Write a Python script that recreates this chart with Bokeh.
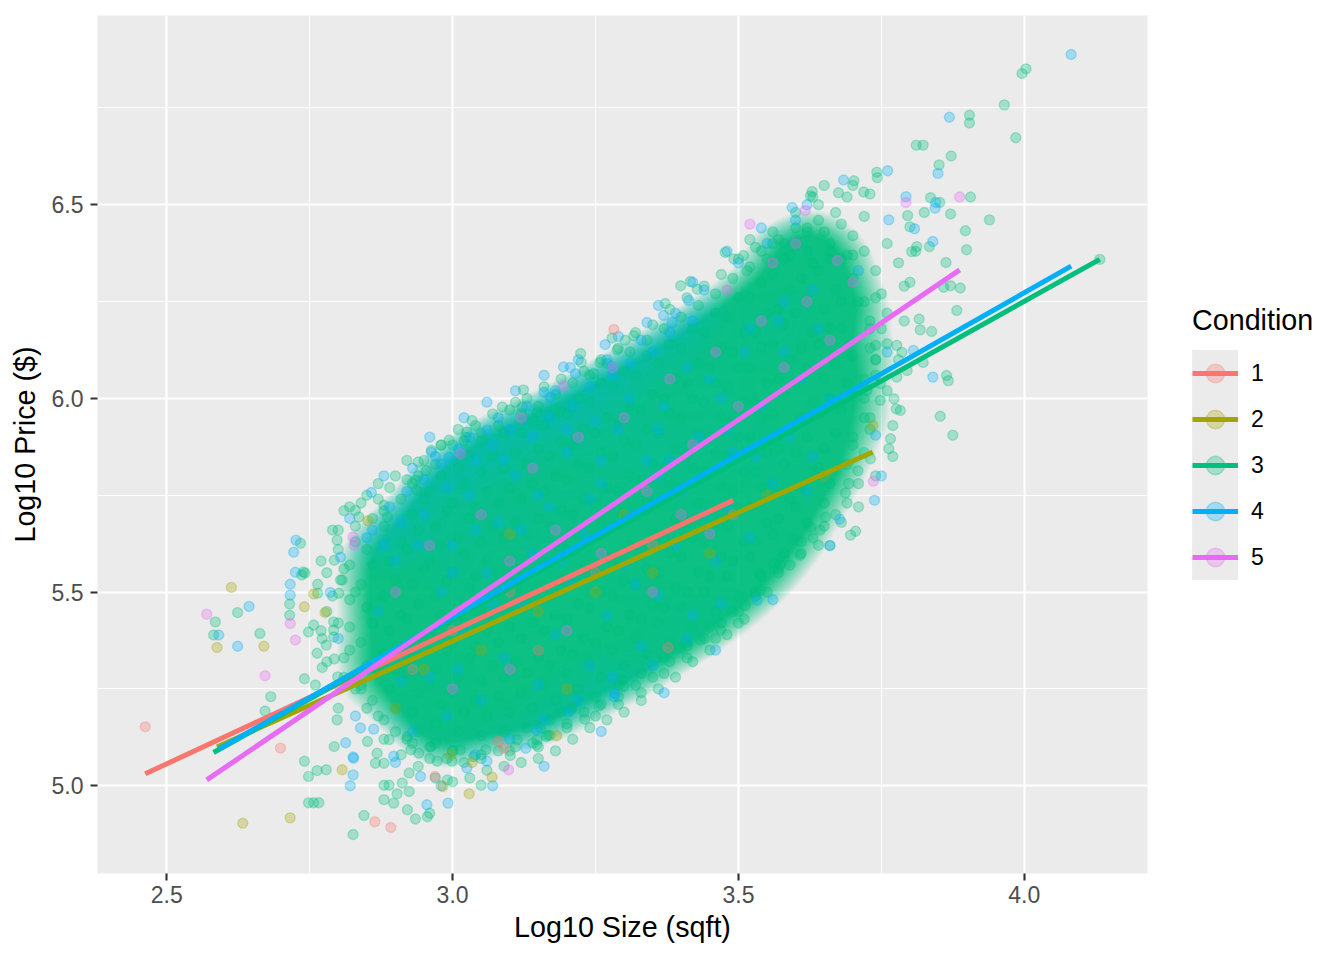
import numpy as np
from bokeh.plotting import figure
from bokeh.layouts import row
from bokeh.models import (ColumnDataSource, Range1d, FixedTicker, NumeralTickFormatter,
                          Legend, LegendItem)
from bokeh.embed import file_html
from bokeh.resources import INLINE

# ---------------- data (a hand-read sample of the cloud) ----------------
conditions = ["1", "2", "3", "4", "5"]
colors = ["#F8766D", "#A3A500", "#00BF7D", "#00B0F6", "#E76BF3"]

x_ticks = [2.5, 3.0, 3.5, 4.0]
x_minor = [2.25, 2.75, 3.25, 3.75, 4.25]
y_ticks = [5.0, 5.5, 6.0, 6.5]
y_minor = [4.75, 5.25, 5.75, 6.25, 6.75]

# fitted (lm) lines per condition
fit_slope = [0.6866, 0.664, 0.8215, 0.8363, 1.0]
fit_intercept = [3.3399, 3.3817, 2.9647, 2.9278, 2.445]

red_pts = [(2.4624, 5.152), (2.699, 5.097), (2.864, 4.907), (2.892, 4.892), (2.969, 5.024),
           (3.090, 5.097), (3.080, 5.114), (3.377, 5.357), (3.282, 6.178), (3.491, 5.70),
           (3.00, 5.40), (3.15, 5.35), (3.25, 5.55), (2.93, 5.30), (3.35, 5.62), (3.10, 5.50)]

olive_pts = [(2.613, 5.512), (2.588, 5.357), (2.633, 4.903), (2.716, 4.917), (2.741, 5.462),
             (2.757, 5.495), (2.777, 5.447), (2.807, 5.041), (2.983, 4.998), (2.997, 5.080),
             (3.029, 4.979), (3.034, 5.060), (3.069, 5.022), (3.182, 5.129), (3.735, 5.930),
             (2.852, 5.684), (2.95, 5.30), (3.05, 5.35), (3.15, 5.45), (3.25, 5.50), (3.35, 5.55),
             (3.45, 5.60), (3.10, 5.65), (3.30, 5.70), (3.55, 5.75), (3.65, 5.80), (2.90, 5.20),
             (3.20, 5.25), (2.67, 5.36)]

# condition 3, points around the dense core
green_pts = [
    (2.582, 5.389), (2.624, 5.447), (2.585, 5.423), (2.663, 5.393), (2.682, 5.230), (2.672, 5.193),
    (2.741, 5.063), (2.748, 5.024), (2.763, 5.039), (2.779, 5.041), (2.748, 4.956), (2.757, 4.956),
    (2.766, 4.956), (2.826, 4.874), (2.845, 4.923), (2.741, 5.276), (2.715, 5.469), (2.715, 5.440),
    (2.736, 5.544), (2.742, 5.549), (2.764, 5.520), (2.764, 5.497), (2.748, 5.397), (2.757, 5.415),
    (2.763, 5.342), (2.772, 5.380), (2.779, 5.363), (2.772, 5.305), (2.793, 5.327), (2.799, 5.281),
    (2.792, 5.423), (2.792, 5.402), (2.792, 5.384), (2.801, 5.497), (2.807, 5.531), (2.734, 5.626),
    (2.739, 5.552), (2.798, 5.634), (2.793, 5.582), (2.804, 5.531),
    (2.880, 5.001), (2.889, 5.001), (2.880, 4.964), (2.897, 4.955), (2.903, 4.979), (2.924, 4.985),
    (2.921, 4.938), (2.935, 4.914), (2.956, 4.920), (2.960, 4.929), (3.050, 5.001), (3.101, 5.078),
    (3.147, 5.105), (3.164, 5.127), (3.231, 5.172), (3.256, 5.206), (3.299, 5.256), (3.297, 5.273),
    (3.399, 5.355), (2.798, 5.170), (2.793, 5.101), (2.851, 5.114), (2.868, 5.084), (2.880, 5.058),
    (2.865, 5.058), (2.889, 5.119), (2.921, 5.127), (2.927, 5.093), (2.941, 5.084), (2.962, 5.101),
    (2.973, 5.063), (2.924, 5.033), (2.912, 5.007), (2.991, 5.015), (2.999, 5.063), (3.014, 5.093),
    (3.037, 5.075), (3.058, 5.093), (3.113, 5.119), (3.148, 5.119), (3.166, 5.131), (3.154, 5.149),
    (3.206, 5.196), (3.189, 5.191),
    (3.434, 5.376), (3.469, 5.402), (3.512, 5.466), (3.538, 5.505), (3.573, 5.570), (3.608, 5.595),
    (3.643, 5.660), (3.696, 5.647), (3.579, 5.591), (3.640, 5.621), (3.652, 5.693), (3.626, 5.668),
    (3.597, 5.638), (3.562, 5.574), (3.538, 5.548), (3.50, 5.42), (3.46, 5.38), (3.41, 5.33),
    (3.37, 5.29), (3.33, 5.24), (3.29, 5.21), (3.25, 5.18), (3.20, 5.15), (3.15, 5.10), (3.10, 5.09),
    (3.05, 5.07), (3.00, 5.09), (2.96, 5.10), (2.92, 5.12), (2.88, 5.17), (2.86, 5.22),
    (3.034, 5.943), (3.025, 5.913), (3.023, 5.900), (3.087, 5.978), (3.110, 5.990), (3.122, 5.978),
    (3.148, 5.964), (3.168, 5.956), (3.189, 5.967), (3.206, 5.978), (2.994, 5.892), (2.980, 5.879),
    (2.963, 5.866), (2.940, 5.836), (2.954, 5.814), (2.935, 5.789), (2.930, 5.780), (2.938, 5.763),
    (2.880, 5.724), (2.886, 5.694), (2.830, 5.711), (2.836, 5.694),
    (2.81, 5.28), (2.82, 5.35), (2.80, 5.42), (2.82, 5.48), (2.81, 5.56), (2.83, 5.63), (2.83, 5.25),
    (2.80, 5.20), (2.78, 5.45), (2.77, 5.58), (2.79, 5.66), (2.82, 5.72), (2.85, 5.75), (2.87, 5.78),
    (2.90, 5.80), (2.92, 5.84),
    (3.124, 6.022), (3.224, 6.116), (3.225, 6.093), (3.247, 6.064), (3.279, 6.156), (3.288, 6.126),
    (3.302, 6.150), (3.317, 6.162), (3.258, 6.093), (3.372, 6.245), (3.399, 6.291), (3.416, 6.302),
    (3.428, 6.282), (3.477, 6.377), (3.492, 6.360), (3.509, 6.369), (3.515, 6.330),
    (3.58, 6.40), (3.60, 6.44), (3.62, 6.38), (3.64, 6.46), (3.66, 6.40), (3.68, 6.36), (3.70, 6.42),
    (3.72, 6.38), (3.74, 6.33), (3.71, 6.25), (3.73, 6.20), (3.75, 6.27), (3.54, 6.38), (3.56, 6.43),
    (3.52, 6.41), (3.63, 6.52), (3.67, 6.48), (3.69, 6.52), (3.76, 6.40), (3.78, 6.35), (3.74, 6.10),
    (3.72, 6.05), (3.76, 6.22), (3.79, 6.29), (3.72, 5.95), (3.70, 5.88), (3.74, 5.80), (3.71, 5.72),
    (3.68, 5.68), (3.66, 5.62),
    (4.003, 6.851), (3.996, 6.839), (3.965, 6.758), (3.985, 6.673), (3.904, 6.731), (3.904, 6.711),
    (3.811, 6.654), (3.823, 6.654), (3.872, 6.626), (3.851, 6.603), (3.906, 6.520), (3.836, 6.518),
    (3.852, 6.506), (3.825, 6.480), (3.871, 6.476), (3.939, 6.461), (3.796, 6.472), (3.897, 6.433),
    (3.899, 6.384), (3.800, 6.443), (3.812, 6.392), (3.803, 6.379), (3.834, 6.392), (3.863, 6.351),
    (4.132, 6.359), (3.742, 6.584), (3.743, 6.570), (3.702, 6.562), (3.730, 6.528), (3.719, 6.533),
    (3.675, 6.531), (3.629, 6.534), (3.626, 6.523), (3.859, 6.287), (3.882, 6.227), (3.816, 6.205),
    (3.818, 6.177), (3.838, 6.173), (3.888, 6.285), (3.871, 6.291),
    (3.864, 6.059), (3.867, 6.046), (3.853, 5.954), (3.875, 5.905), (3.783, 5.969), (3.766, 5.896),
    (3.763, 5.870), (3.731, 5.844), (3.709, 5.813), (3.693, 5.780), (3.687, 5.756), (3.690, 5.730),
    (3.705, 5.657), (3.776, 5.973), (3.772, 5.999), (3.823, 6.093), (3.786, 6.119), (3.777, 6.137),
    (3.760, 6.141), (3.740, 6.137), (3.795, 6.072), (3.777, 6.055), (3.748, 6.038), (3.725, 6.021),
    (3.748, 5.995),
    # band just outside the saturated core
    (2.80, 5.66), (2.81, 5.71), (2.83, 5.67), (2.84, 5.73), (2.86, 5.69), (2.87, 5.74), (2.88, 5.71),
    (2.89, 5.77), (2.91, 5.74), (2.92, 5.79), (2.94, 5.80), (2.95, 5.84), (2.97, 5.83), (2.98, 5.88),
    (3.00, 5.88), (3.01, 5.92), (3.02, 5.89), (3.04, 5.93), (3.05, 5.91), (3.07, 5.96), (3.08, 5.93),
    (3.10, 5.97), (3.12, 5.96), (3.13, 6.00), (3.15, 5.98), (3.16, 6.03), (3.18, 6.01), (3.19, 6.05),
    (3.21, 6.04), (3.23, 6.07), (3.24, 6.06), (3.26, 6.10), (3.27, 6.09), (3.29, 6.13), (3.31, 6.12),
    (3.32, 6.17), (3.34, 6.15), (3.35, 6.19), (3.37, 6.18), (3.38, 6.23), (3.40, 6.21), (3.41, 6.26),
    (3.43, 6.24), (3.44, 6.29), (3.46, 6.27), (3.47, 6.32), (3.49, 6.31), (3.50, 6.36), (3.52, 6.34),
    (3.53, 6.39), (3.55, 6.36), (3.57, 6.41), (3.59, 6.37), (3.60, 6.48), (3.62, 6.43), (3.64, 6.50),
    (3.66, 6.36), (3.68, 6.45), (3.70, 6.37), (3.72, 6.47), (3.65, 6.55), (3.70, 6.55),
    (2.84, 5.26), (2.85, 5.20), (2.87, 5.18), (2.88, 5.12), (2.90, 5.14), (2.91, 5.08), (2.93, 5.11),
    (2.94, 5.05), (2.96, 5.07), (2.97, 5.02), (2.99, 5.07), (3.00, 5.01), (3.02, 5.06), (3.03, 5.02),
    (3.05, 5.08), (3.06, 5.04), (3.08, 5.09), (3.09, 5.05), (3.11, 5.10), (3.12, 5.06), (3.14, 5.11),
    (3.15, 5.07), (3.17, 5.13), (3.18, 5.09), (3.20, 5.16), (3.21, 5.12), (3.23, 5.19), (3.24, 5.15),
    (3.26, 5.21), (3.27, 5.17), (3.29, 5.23), (3.30, 5.19), (3.32, 5.26), (3.33, 5.22), (3.35, 5.28),
    (3.36, 5.25), (3.38, 5.32), (3.39, 5.28), (3.41, 5.36), (3.42, 5.32), (3.44, 5.38), (3.45, 5.35),
    (3.47, 5.42), (3.48, 5.39), (3.50, 5.45), (3.51, 5.43), (3.53, 5.49), (3.55, 5.50), (3.57, 5.55),
    (3.59, 5.57), (3.61, 5.60), (3.63, 5.64), (3.65, 5.67), (3.67, 5.70),
    (3.71, 5.78), (3.72, 5.86), (3.73, 5.92), (3.72, 6.00), (3.74, 6.06), (3.73, 6.13), (3.75, 6.18),
    (3.74, 6.26), (3.77, 5.85), (3.77, 5.93), (3.76, 6.02), (3.78, 6.10), (3.79, 6.20), (3.80, 6.30),
    (3.81, 6.38),
    (2.76, 5.26), (2.78, 5.32), (2.77, 5.40), (2.79, 5.49), (2.78, 5.55), (2.80, 5.61), (2.81, 5.33),
    (2.82, 5.41), (2.83, 5.50), (2.82, 5.57), (2.80, 5.26),
]

# condition 3, sample of the saturated core (thousands of overplotted points)
green_core_pts = [
    (2.84, 5.25), (2.85, 5.31), (2.84, 5.37), (2.86, 5.42), (2.85, 5.46), (2.84, 5.52), (2.86, 5.57),
    (2.85, 5.61),
    (2.90, 5.20), (2.89, 5.25), (2.90, 5.30), (2.88, 5.34), (2.89, 5.40), (2.91, 5.44), (2.88, 5.49),
    (2.90, 5.53), (2.89, 5.58), (2.91, 5.63), (2.88, 5.67),
    (2.94, 5.14), (2.93, 5.19), (2.94, 5.24), (2.92, 5.29), (2.93, 5.33), (2.95, 5.38), (2.92, 5.43),
    (2.94, 5.47), (2.93, 5.52), (2.95, 5.56), (2.92, 5.61), (2.94, 5.66), (2.93, 5.70), (2.95, 5.74),
    (2.97, 5.11), (2.97, 5.16), (2.98, 5.21), (2.96, 5.26), (2.97, 5.30), (2.99, 5.35), (2.96, 5.39),
    (2.98, 5.44), (2.97, 5.49), (2.99, 5.53), (2.96, 5.58), (2.98, 5.62), (2.97, 5.67), (2.99, 5.71),
    (2.96, 5.76), (2.98, 5.80),
    (3.00, 5.09), (3.01, 5.14), (3.02, 5.19), (3.00, 5.24), (3.01, 5.28), (3.03, 5.33), (3.00, 5.37),
    (3.02, 5.42), (3.01, 5.46), (3.03, 5.51), (3.00, 5.55), (3.02, 5.60), (3.01, 5.64), (3.03, 5.69),
    (3.00, 5.73), (3.02, 5.78), (3.01, 5.82), (3.03, 5.85),
    (3.05, 5.13), (3.06, 5.18), (3.04, 5.22), (3.05, 5.27), (3.07, 5.31), (3.04, 5.36), (3.06, 5.40),
    (3.05, 5.45), (3.07, 5.49), (3.04, 5.54), (3.06, 5.58), (3.05, 5.63), (3.07, 5.67), (3.04, 5.72),
    (3.06, 5.76), (3.05, 5.81), (3.07, 5.85), (3.05, 5.89),
    (3.09, 5.14), (3.10, 5.19), (3.08, 5.23), (3.09, 5.28), (3.11, 5.32), (3.08, 5.37), (3.10, 5.41),
    (3.09, 5.46), (3.11, 5.50), (3.08, 5.55), (3.10, 5.59), (3.09, 5.64), (3.11, 5.68), (3.08, 5.73),
    (3.10, 5.77), (3.09, 5.82), (3.11, 5.86), (3.09, 5.91),
    (3.13, 5.15), (3.14, 5.20), (3.12, 5.24), (3.13, 5.29), (3.15, 5.33), (3.12, 5.38), (3.14, 5.42),
    (3.13, 5.47), (3.15, 5.51), (3.12, 5.56), (3.14, 5.60), (3.13, 5.65), (3.15, 5.69), (3.12, 5.74),
    (3.14, 5.78), (3.13, 5.83), (3.15, 5.87), (3.12, 5.91), (3.14, 5.94),
    (3.17, 5.17), (3.18, 5.22), (3.16, 5.26), (3.17, 5.31), (3.19, 5.35), (3.16, 5.40), (3.18, 5.44),
    (3.17, 5.49), (3.19, 5.53), (3.16, 5.58), (3.18, 5.62), (3.17, 5.67), (3.19, 5.71), (3.16, 5.76),
    (3.18, 5.80), (3.17, 5.85), (3.19, 5.89), (3.16, 5.93), (3.18, 5.97),
    (3.21, 5.20), (3.22, 5.25), (3.20, 5.29), (3.21, 5.34), (3.23, 5.38), (3.20, 5.43), (3.22, 5.47),
    (3.21, 5.52), (3.23, 5.56), (3.20, 5.61), (3.22, 5.65), (3.21, 5.70), (3.23, 5.74), (3.20, 5.79),
    (3.22, 5.83), (3.21, 5.88), (3.23, 5.92), (3.20, 5.96), (3.22, 6.00),
    (3.25, 5.23), (3.26, 5.28), (3.24, 5.32), (3.25, 5.37), (3.27, 5.41), (3.24, 5.46), (3.26, 5.50),
    (3.25, 5.55), (3.27, 5.59), (3.24, 5.64), (3.26, 5.68), (3.25, 5.73), (3.27, 5.77), (3.24, 5.82),
    (3.26, 5.86), (3.25, 5.91), (3.27, 5.95), (3.24, 5.99), (3.26, 6.04),
    (3.29, 5.26), (3.30, 5.31), (3.28, 5.35), (3.29, 5.40), (3.31, 5.44), (3.28, 5.49), (3.30, 5.53),
    (3.29, 5.58), (3.31, 5.62), (3.28, 5.67), (3.30, 5.71), (3.29, 5.76), (3.31, 5.80), (3.28, 5.85),
    (3.30, 5.89), (3.29, 5.94), (3.31, 5.98), (3.28, 6.03), (3.30, 6.07),
    (3.33, 5.29), (3.34, 5.34), (3.32, 5.38), (3.33, 5.43), (3.35, 5.47), (3.32, 5.52), (3.34, 5.56),
    (3.33, 5.61), (3.35, 5.65), (3.32, 5.70), (3.34, 5.74), (3.33, 5.79), (3.35, 5.83), (3.32, 5.88),
    (3.34, 5.92), (3.33, 5.97), (3.35, 6.01), (3.32, 6.06), (3.34, 6.11),
    (3.37, 5.33), (3.38, 5.37), (3.36, 5.42), (3.37, 5.46), (3.39, 5.51), (3.36, 5.55), (3.38, 5.60),
    (3.37, 5.64), (3.39, 5.69), (3.36, 5.73), (3.38, 5.78), (3.37, 5.82), (3.39, 5.87), (3.36, 5.91),
    (3.38, 5.96), (3.37, 6.00), (3.39, 6.05), (3.36, 6.09), (3.38, 6.14),
    (3.41, 5.37), (3.42, 5.41), (3.40, 5.46), (3.41, 5.50), (3.43, 5.55), (3.40, 5.59), (3.42, 5.64),
    (3.41, 5.68), (3.43, 5.73), (3.40, 5.77), (3.42, 5.82), (3.41, 5.86), (3.43, 5.91), (3.40, 5.95),
    (3.42, 6.00), (3.41, 6.04), (3.43, 6.09), (3.40, 6.13), (3.42, 6.18),
    (3.45, 5.41), (3.46, 5.45), (3.44, 5.50), (3.45, 5.54), (3.47, 5.59), (3.44, 5.63), (3.46, 5.68),
    (3.45, 5.72), (3.47, 5.77), (3.44, 5.81), (3.46, 5.86), (3.45, 5.90), (3.47, 5.95), (3.44, 5.99),
    (3.46, 6.04), (3.45, 6.08), (3.47, 6.13), (3.44, 6.17), (3.46, 6.22),
    (3.49, 5.45), (3.50, 5.49), (3.48, 5.54), (3.49, 5.58), (3.51, 5.63), (3.48, 5.67), (3.50, 5.72),
    (3.49, 5.76), (3.51, 5.81), (3.48, 5.85), (3.50, 5.90), (3.49, 5.94), (3.51, 5.99), (3.48, 6.03),
    (3.50, 6.08), (3.49, 6.12), (3.51, 6.17), (3.48, 6.21), (3.50, 6.26),
    (3.53, 5.50), (3.54, 5.54), (3.52, 5.59), (3.53, 5.63), (3.55, 5.68), (3.52, 5.72), (3.54, 5.77),
    (3.53, 5.81), (3.55, 5.86), (3.52, 5.90), (3.54, 5.95), (3.53, 5.99), (3.55, 6.04), (3.52, 6.08),
    (3.54, 6.13), (3.53, 6.17), (3.55, 6.22), (3.52, 6.26), (3.54, 6.30),
    (3.57, 5.56), (3.58, 5.60), (3.56, 5.65), (3.57, 5.69), (3.59, 5.74), (3.56, 5.78), (3.58, 5.83),
    (3.57, 5.87), (3.59, 5.92), (3.56, 5.96), (3.58, 6.01), (3.57, 6.05), (3.59, 6.10), (3.56, 6.14),
    (3.58, 6.19), (3.57, 6.23), (3.59, 6.28), (3.56, 6.32), (3.58, 6.36), (3.56, 6.40),
    (3.61, 5.63), (3.62, 5.68), (3.60, 5.72), (3.61, 5.77), (3.63, 5.81), (3.60, 5.86), (3.62, 5.90),
    (3.61, 5.95), (3.63, 5.99), (3.60, 6.04), (3.62, 6.08), (3.61, 6.13), (3.63, 6.17), (3.60, 6.22),
    (3.62, 6.26), (3.61, 6.31), (3.63, 6.35), (3.60, 6.40), (3.62, 6.44),
    (3.65, 5.73), (3.66, 5.78), (3.64, 5.82), (3.65, 5.87), (3.67, 5.91), (3.64, 5.96), (3.66, 6.00),
    (3.65, 6.05), (3.67, 6.09), (3.64, 6.14), (3.66, 6.18), (3.65, 6.23), (3.67, 6.28), (3.64, 6.33),
    (3.66, 6.38), (3.65, 6.43),
    (3.69, 5.83), (3.70, 5.90), (3.68, 5.97), (3.69, 6.04), (3.70, 6.11), (3.68, 6.18), (3.68, 6.25),
    (3.70, 6.31), (3.69, 6.37),
    (3.73, 5.95), (3.72, 6.03), (3.74, 6.10), (3.73, 6.18), (3.72, 6.25),
]

blue_pts = [
    (2.87, 5.45), (2.90, 5.58), (2.92, 5.36), (2.95, 5.70), (2.96, 5.28), (2.98, 5.50), (3.00, 5.62),
    (3.02, 5.40), (3.03, 5.75), (3.05, 5.22), (3.06, 5.55), (3.08, 5.68), (3.09, 5.33), (3.11, 5.80),
    (3.12, 5.47), (3.14, 5.60), (3.15, 5.26), (3.17, 5.72), (3.18, 5.39), (3.20, 5.86), (3.21, 5.52),
    (3.23, 5.65), (3.24, 5.31), (3.26, 5.78), (3.27, 5.44), (3.29, 5.92), (3.30, 5.57), (3.31, 5.70),
    (3.33, 5.36), (3.34, 5.84), (3.36, 5.49), (3.37, 5.98), (3.39, 5.62), (3.40, 5.76), (3.42, 5.44),
    (3.43, 5.90), (3.45, 6.05), (3.46, 5.58), (3.48, 5.72), (3.49, 5.86), (3.51, 6.12), (3.52, 5.64),
    (3.54, 5.98), (3.56, 5.78), (3.57, 6.20), (3.59, 5.90), (3.61, 6.05), (3.63, 5.85), (3.64, 6.18),
    (3.66, 6.00), (2.93, 5.14), (2.99, 5.18), (3.04, 5.08), (3.10, 5.12), (3.16, 5.17), (3.22, 5.22),
    (3.28, 5.28), (3.35, 5.31), (3.41, 5.38), (3.47, 5.47), (2.97, 5.85), (3.03, 5.90), (3.08, 5.95),
    (3.13, 5.98), (3.18, 6.02), (3.27, 6.10), (3.33, 6.15), (3.39, 6.22), (3.44, 6.28), (3.50, 6.35),
    (3.55, 6.40), (3.60, 6.46),
    (2.644, 5.463), (2.591, 5.389), (2.624, 5.360), (2.716, 5.520), (2.716, 5.492), (2.725, 5.551),
    (2.786, 5.499), (2.813, 5.111), (2.827, 5.071), (2.826, 5.028), (2.821, 5.000), (2.955, 4.951),
    (2.992, 4.955), (3.128, 5.097), (3.283, 5.230), (3.284, 5.238), (3.840, 6.055), (3.740, 5.905),
    (3.738, 5.737), (3.677, 5.688), (4.082, 6.888), (3.869, 6.726), (3.849, 6.581), (3.793, 6.521),
    (3.845, 6.506), (3.844, 6.491), (3.808, 6.438), (3.840, 6.405), (3.761, 6.588), (3.684, 6.564),
    (3.594, 6.493), (3.763, 6.461), (3.160, 6.016), (3.171, 6.003), (3.194, 6.081), (3.206, 6.080),
    (3.215, 6.064), (3.267, 6.139), (3.278, 6.083), (3.340, 6.196), (3.369, 6.214), (3.384, 6.196),
    (3.413, 6.253), (3.060, 5.918), (2.963, 5.861), (2.994, 5.848), (2.858, 5.757), (2.804, 5.590),
    (2.722, 5.603), (2.726, 5.634), (3.533, 5.479), (2.839, 5.149), (2.862, 5.146), (2.826, 5.074),
    (2.897, 5.076), (2.944, 5.024), (3.025, 5.046), (3.060, 5.063), (3.148, 5.144), (3.203, 5.191),
    (3.806, 6.124), (2.88, 5.62), (2.91, 5.27), (3.01, 5.30), (3.07, 5.47), (3.19, 5.58), (3.25, 5.94),
    (3.32, 5.52), (3.38, 5.84), (3.44, 5.70), (3.53, 5.85), (3.58, 6.25), (3.62, 5.76),
    (2.86, 5.66), (2.89, 5.72), (2.92, 5.76), (2.95, 5.79), (2.98, 5.83), (3.01, 5.87), (3.04, 5.84),
    (3.07, 5.88), (3.10, 5.92), (3.14, 5.90), (3.17, 5.95), (3.21, 5.98), (3.24, 6.03), (3.28, 6.06),
    (3.31, 6.09), (3.35, 6.12), (3.38, 6.17), (3.42, 6.20),
    (2.82, 5.69), (2.85, 5.64), (2.88, 5.80), (2.93, 5.82), (2.96, 5.90), (3.02, 5.95), (3.06, 5.99),
    (3.11, 6.02), (3.16, 6.06), (3.22, 6.10), (3.29, 6.16), (3.36, 6.24), (3.42, 6.30), (3.48, 6.38),
    (3.54, 6.44), (3.62, 6.50), (2.80, 5.38), (2.83, 5.18), (2.90, 5.06), (2.98, 5.00), (3.07, 5.00),
    (3.16, 5.05), (3.26, 5.14), (3.37, 5.24), (3.46, 5.35), (3.56, 5.48), (3.66, 5.62), (3.75, 5.80),
    (3.76, 6.12), (3.71, 6.33),
    (2.91, 5.68), (2.94, 5.62), (2.99, 5.77), (3.04, 5.66), (3.09, 5.84), (3.15, 5.75), (3.20, 5.92),
    (3.26, 5.84), (3.31, 6.00), (3.36, 5.92), (3.41, 6.08), (3.47, 6.00), (3.52, 6.18), (3.58, 6.12),
    (3.63, 6.28), (3.00, 5.55), (3.12, 5.66), (3.24, 5.74), (3.36, 5.80), (3.48, 5.92),
]

magenta_pts = [
    (2.90, 5.50), (2.96, 5.62), (3.01, 5.45), (3.05, 5.70), (3.10, 5.58), (3.14, 5.82), (3.18, 5.66),
    (3.22, 5.90), (3.26, 5.60), (3.30, 5.95), (3.34, 5.76), (3.38, 6.05), (3.42, 5.88), (3.46, 6.12),
    (3.50, 5.98), (3.54, 6.20), (3.58, 6.08), (3.62, 6.25), (3.66, 6.15), (3.20, 5.40), (3.10, 5.30),
    (3.35, 5.50), (3.45, 5.65), (3.00, 5.25), (3.28, 6.08), (3.48, 6.28), (3.56, 6.35), (3.12, 5.95),
    (3.40, 5.70), (3.60, 6.40), (3.70, 6.30), (3.52, 6.45),
    (2.570, 5.443), (2.716, 5.419), (2.725, 5.376), (2.672, 5.284), (3.098, 5.041), (3.194, 6.032),
    (3.887, 6.520), (3.793, 6.506), (3.736, 5.786), (2.826, 5.642), (2.828, 5.621), (3.014, 5.857),
    (3.673, 6.356), (3.617, 6.485),
]

# ---------------- build ----------------
green_all = green_pts + green_core_pts
groups = [red_pts, olive_pts, green_all, blue_pts, magenta_pts]
all_x = [p[0] for g in groups for p in g]
all_y = [p[1] for g in groups for p in g]
xmin, xmax = min(all_x), max(all_x)
ymin, ymax = min(all_y), max(all_y)
xpad = 0.05 * (xmax - xmin)
ypad = 0.05 * (ymax - ymin)
x_lo, x_hi = xmin - xpad, xmax + xpad
y_lo, y_hi = ymin - ypad, ymax + ypad

FONT = "Liberation Sans"
H_ = 952
BT, BB = 15, 79
PT_SIZE = 10
LINE_W = 5

p = figure(width=1150, height=H_, output_backend="svg", toolbar_location=None,
           x_range=Range1d(x_lo, x_hi), y_range=Range1d(y_lo, y_hi),
           min_border_left=97, min_border_right=3, min_border_top=BT, min_border_bottom=BB)
p.background_fill_color = "#EBEBEB"
p.border_fill_color = "white"
p.outline_line_color = None

# overplotting of the dense core (thousands of points), estimated from the sampled points
nx, ny = 525, 430


def smooth(a, sigma, axis):
    r = int(3 * sigma) + 1
    k = np.exp(-0.5 * (np.arange(-r, r + 1) / sigma) ** 2)
    k /= k.sum()
    return np.apply_along_axis(lambda m: np.convolve(m, k, mode="same"), axis, a)


def density(pts, sig_x, sig_y):
    px = np.array([q[0] for q in pts])
    py = np.array([q[1] for q in pts])
    h, _, _ = np.histogram2d(py, px, bins=[ny, nx], range=[[y_lo, y_hi], [x_lo, x_hi]])
    d = smooth(smooth(h, sig_x / ((x_hi - x_lo) / nx), 1), sig_y / ((y_hi - y_lo) / ny), 0)
    return d / np.percentile(d[d > 0], 97)


def rgba_image(alpha, rgb):
    img = np.zeros((ny, nx), dtype=np.uint32)
    view = img.view(dtype=np.uint8).reshape((ny, nx, 4))
    view[:, :, 0], view[:, :, 1], view[:, :, 2] = rgb
    view[:, :, 3] = (alpha * 255).astype(np.uint8)
    return img


tg = density(green_core_pts, 0.040, 0.045)
alpha_g = np.clip((tg - 0.18) / 0.45, 0, 1) ** 0.8 * 0.95
p.image_rgba(image=[rgba_image(alpha_g, (0, 191, 125))], x=x_lo, y=y_lo,
             dw=x_hi - x_lo, dh=y_hi - y_lo)

tb = density(blue_pts, 0.05, 0.06)
alpha_b = np.clip((tb - 0.35) / 0.65, 0, 1) * 0.28 * np.clip(alpha_g / 0.6, 0, 1)
p.image_rgba(image=[rgba_image(alpha_b, (0, 176, 246))], x=x_lo, y=y_lo,
             dw=x_hi - x_lo, dh=y_hi - y_lo)

order = [2, 3, 4, 1, 0]
for i in order:
    g = groups[i]
    src = ColumnDataSource(dict(x=[q[0] for q in g], y=[q[1] for q in g]))
    p.scatter("x", "y", source=src, size=PT_SIZE, fill_color=colors[i], line_color=colors[i],
              fill_alpha=0.3, line_alpha=0.3, line_width=1.4)

for i in range(5):
    xs = [q[0] for q in groups[i]]
    x0, x1 = min(xs), max(xs)
    src = ColumnDataSource(dict(x=[x0, x1],
                                y=[fit_intercept[i] + fit_slope[i] * x0,
                                   fit_intercept[i] + fit_slope[i] * x1]))
    p.line("x", "y", source=src, line_color=colors[i], line_width=LINE_W)

xt = FixedTicker(ticks=x_ticks, minor_ticks=x_minor)
yt = FixedTicker(ticks=y_ticks, minor_ticks=y_minor)
p.xaxis.ticker = xt
p.yaxis.ticker = yt
p.xgrid.ticker = xt
p.ygrid.ticker = yt
for grid in (p.xgrid, p.ygrid):
    grid.grid_line_color = "white"
    grid.grid_line_width = 2.13
    grid.minor_grid_line_color = "white"
    grid.minor_grid_line_width = 1.07

for ax in (p.xaxis, p.yaxis):
    ax.formatter = NumeralTickFormatter(format="0.0")
    ax.axis_line_color = None
    ax.major_tick_line_color = "#333333"
    ax.major_tick_line_width = 2.13
    ax.major_tick_out = 7
    ax.major_tick_in = 0
    ax.minor_tick_line_color = None
    ax.major_label_text_font = FONT
    ax.major_label_text_font_size = "23px"
    ax.major_label_text_color = "#4D4D4D"
    ax.axis_label_text_font = FONT
    ax.axis_label_text_font_size = "28.7px"
    ax.axis_label_text_font_style = "normal"
    ax.axis_label_text_color = "black"

p.xaxis.axis_label = "Log10 Size (sqft)"
p.yaxis.axis_label = "Log10 Price ($)"
p.xaxis.major_label_standoff = 5
p.xaxis.axis_label_standoff = 5
p.yaxis.major_label_standoff = 7
p.yaxis.axis_label_standoff = 8

# ---------------- legend (separate panel to the right of the plot) ----------------
lf = figure(width=186, height=H_, output_backend="svg", toolbar_location=None,
            x_axis_type=None, y_axis_type=None, min_border=0,
            min_border_top=BT, min_border_bottom=BB,
            x_range=Range1d(0, 1), y_range=Range1d(0, 1))
lf.outline_line_color = None
lf.background_fill_color = "white"
lf.border_fill_color = "white"

# legend-only renderers: a single point placed outside the visible range
key_bg = lf.rect(x=[-9], y=[-9], width=1, height=1, fill_color="#EBEBEB", line_color="#EBEBEB",
                 line_width=10, line_join="miter")
items = []
for i in range(5):
    ln = lf.line(x=[-9, -8], y=[-9, -9], line_color=colors[i], line_width=LINE_W)
    pt = lf.scatter(x=[-9], y=[-9], size=PT_SIZE, fill_color=colors[i], line_color=colors[i],
                    fill_alpha=0.3, line_alpha=0.3, line_width=1.4)
    items.append(LegendItem(label=conditions[i], renderers=[key_bg, ln, pt]))

frame_bottom = H_ - BB
legend = Legend(items=items, title="Condition", location=(42, frame_bottom - 580),
                orientation="vertical",
                glyph_width=46, glyph_height=46, spacing=0, padding=0, margin=0,
                label_standoff=13, label_text_font_size="23px", label_text_font=FONT,
                label_text_color="black", title_text_font_size="28.7px", title_text_font=FONT,
                title_text_font_style="normal", title_text_color="black", title_standoff=13,
                border_line_alpha=0, background_fill_alpha=0)
lf.add_layout(legend)

layout = row(p, lf)
open("out.html", "w").write(file_html(layout, INLINE))
